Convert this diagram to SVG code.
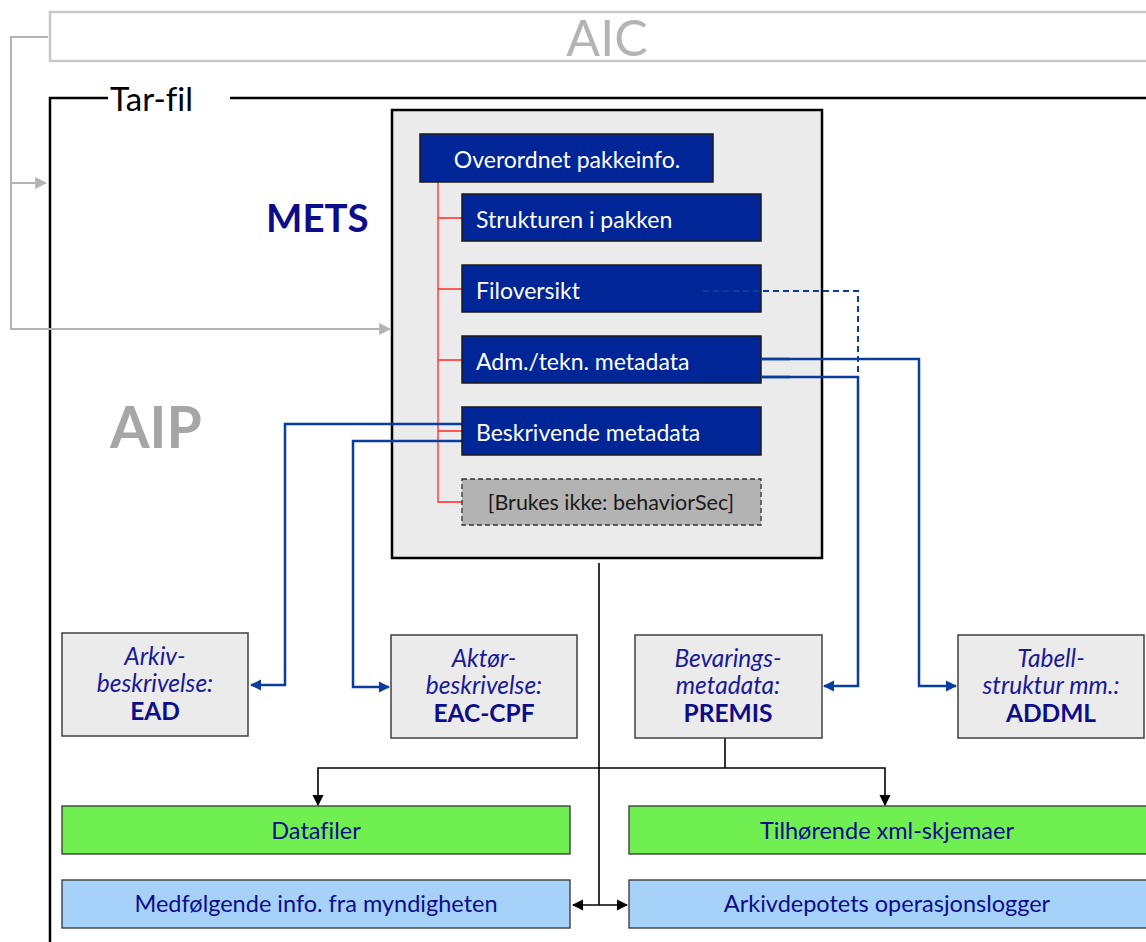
<svg xmlns="http://www.w3.org/2000/svg" width="1146" height="942" viewBox="0 0 1146 942">
<style>
text{font-family:Lato,"Open Sans","Liberation Sans",sans-serif;font-variant-ligatures:none}
.mb{fill:#002596;stroke:#1a1a1a;stroke-width:1.5}
.mt{fill:#fff;font-size:23px}
.lb{fill:#ebebeb;stroke:#404040;stroke-width:1.5}
.it{fill:#1a1a99;font-size:24.5px;font-style:italic;text-anchor:middle}
.bd{fill:#0d0d8c;font-size:24.5px;font-weight:bold;text-anchor:middle}
.bl{fill:none;stroke:#0b3d9e;stroke-width:2.5}
.red{fill:none;stroke:#ff2a2a;stroke-width:1.3}
.blk{fill:none;stroke:#000;stroke-width:1.6}
.bt{fill:#0d0d8c;font-size:23.5px;text-anchor:middle}
.gr{fill:none;stroke:#b4b4b4;stroke-width:2}
</style>
<defs>
<marker id="ab" viewBox="0 0 10 10" refX="9" refY="5" markerWidth="4.5" markerHeight="4.5" orient="auto-start-reverse"><path d="M0,0L10,5L0,10z" fill="#0b3d9e"/></marker>
<marker id="ak" viewBox="0 0 10 10" refX="9" refY="5" markerWidth="7" markerHeight="7" orient="auto-start-reverse"><path d="M0,0L10,5L0,10z" fill="#000"/></marker>
<marker id="ag" viewBox="0 0 10 10" refX="9" refY="5" markerWidth="6" markerHeight="6" orient="auto-start-reverse"><path d="M0,0L10,5L0,10z" fill="#b4b4b4"/></marker>
</defs>
<rect width="1146" height="942" fill="#fff"/>
<g id="aic">
<rect x="50" y="12" width="1110" height="49" fill="none" stroke="#c8c8c8" stroke-width="2.5"/>
<text x="607" y="56" font-size="50" fill="#b4b4b4" text-anchor="middle">AIC</text>
</g>
<g id="tarfil">
<path d="M50,942V98H108M230,98H1146" fill="none" stroke="#000" stroke-width="2.5"/>
<text x="110" y="111" font-size="33" fill="#000">Tar-fil</text>
</g>
<g id="aip"><text x="110" y="448" font-size="57" font-weight="bold" fill="#a6a6a6">AIP</text></g>
<g id="mets">
<rect x="392" y="110" width="430" height="448" fill="#ebebeb" stroke="#000" stroke-width="2.5"/>
<text x="266" y="232" font-size="38.5" font-weight="bold" fill="#0d0d8c">METS</text>
</g>
<g id="connectors">
<path class="red" d="M438,182V502H462M438,218H462M438,289H462M438,360H462M438,431H462"/>
<path class="gr" d="M48,37H11V329H390" marker-end="url(#ag)"/>
<path class="gr" d="M11,183H46" marker-end="url(#ag)"/>
<path d="M703,291H858V377" fill="none" stroke="#0b3d9e" stroke-width="2" stroke-dasharray="6,4"/>
<path class="bl" d="M761,377H858V686H824" marker-end="url(#ab)"/>
<path class="bl" d="M761,359H919V686H956" marker-end="url(#ab)"/>
<path class="bl" d="M462,424H285V685H251" marker-end="url(#ab)"/>
<path class="bl" d="M462,441H353V687H389" marker-end="url(#ab)"/>
<path class="blk" d="M599,563V905"/>
<path class="blk" d="M573,905H627" marker-start="url(#ak)" marker-end="url(#ak)"/>
<path class="blk" d="M725,738V768"/>
<path class="blk" d="M318,805V768H885V805" marker-start="url(#ak)" marker-end="url(#ak)"/>
</g>
<g id="overordnet"><rect class="mb" x="420" y="134" width="293" height="48"/><text class="mt" x="567" y="168" text-anchor="middle">Overordnet pakkeinfo.</text></g>
<g id="strukturen"><rect class="mb" x="462" y="194" width="299" height="47"/><text class="mt" x="476" y="228">Strukturen i pakken</text></g>
<g id="filoversikt"><rect class="mb" x="462" y="265" width="299" height="47"/><text class="mt" x="476" y="299">Filoversikt</text></g>
<g id="adm"><rect class="mb" x="462" y="336" width="299" height="47"/><text class="mt" x="476" y="370">Adm./tekn. metadata</text></g>
<g id="beskrivende"><rect class="mb" x="462" y="407" width="299" height="48"/><text class="mt" x="476" y="441">Beskrivende metadata</text></g>
<path d="M703,291H761" fill="none" stroke="#0b3d9e" stroke-width="2" stroke-dasharray="6,4"/>
<path d="M761,377H790M761,359H790" fill="none" stroke="#0b3d9e" stroke-width="2.5"/>
<g id="behavior"><rect x="462" y="479" width="299" height="46" fill="#b3b3b3" stroke="#333" stroke-width="1.3" stroke-dasharray="5,3"/><text x="611" y="510" font-size="21.5" fill="#1a1a1a" text-anchor="middle">[Brukes ikke: behaviorSec]</text></g>
<g id="ead"><rect class="lb" x="62" y="633" width="186" height="103"/><text class="it" x="155" y="665">Arkiv-</text><text class="it" x="155" y="692">beskrivelse:</text><text class="bd" x="155" y="720">EAD</text></g>
<g id="eac"><rect class="lb" x="391" y="635" width="186" height="103"/><text class="it" x="484" y="667">Aktør-</text><text class="it" x="484" y="694">beskrivelse:</text><text class="bd" x="484" y="722">EAC-CPF</text></g>
<g id="premis"><rect class="lb" x="635" y="635" width="187" height="103"/><text class="it" x="728" y="667">Bevarings-</text><text class="it" x="728" y="694">metadata:</text><text class="bd" x="728" y="722">PREMIS</text></g>
<g id="addml"><rect class="lb" x="958" y="635" width="186" height="103"/><text class="it" x="1051" y="667">Tabell-</text><text class="it" x="1051" y="694">struktur mm.:</text><text class="bd" x="1051" y="722">ADDML</text></g>
<g id="datafiler"><rect x="62" y="806" width="508" height="48" fill="#70f050" stroke="#333" stroke-width="1.3"/><text class="bt" x="316" y="839">Datafiler</text></g>
<g id="xml"><rect x="629" y="806" width="520" height="48" fill="#70f050" stroke="#333" stroke-width="1.3"/><text class="bt" x="887" y="839">Tilhørende xml-skjemaer</text></g>
<g id="medf"><rect x="62" y="880" width="508" height="48" fill="#a6d2fa" stroke="#333" stroke-width="1.3"/><text class="bt" x="316" y="912">Medfølgende info. fra myndigheten</text></g>
<g id="arkiv"><rect x="629" y="880" width="520" height="48" fill="#a6d2fa" stroke="#333" stroke-width="1.3"/><text class="bt" x="887" y="912">Arkivdepotets operasjonslogger</text></g>
</svg>
